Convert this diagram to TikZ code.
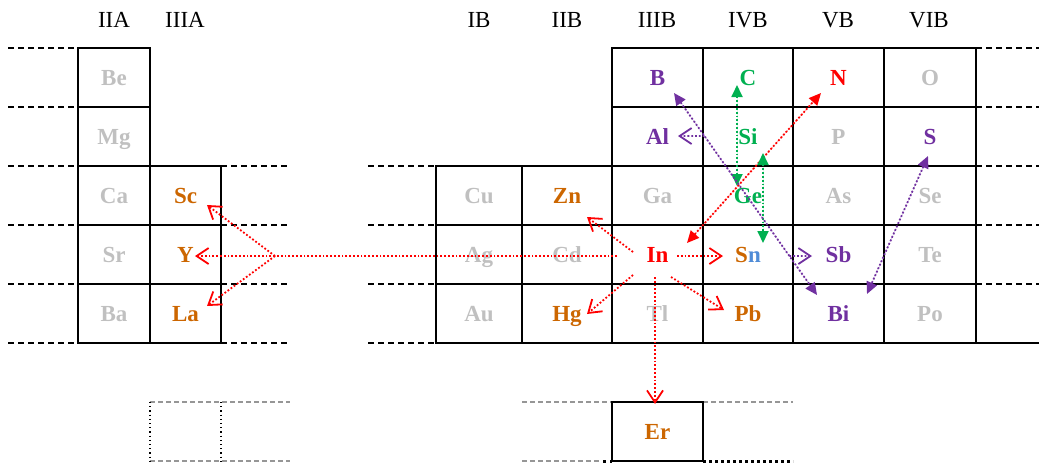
\documentclass[tikz,border=0pt]{standalone}
\usepackage{fontspec}
\setmainfont{Liberation Serif}
\usetikzlibrary{arrows.meta}

\definecolor{elgray}{RGB}{192,192,192}
\definecolor{elorange}{RGB}{204,102,0}
\definecolor{elpurple}{RGB}{112,48,160}
\definecolor{elgreen}{RGB}{0,176,80}
\definecolor{elred}{RGB}{255,0,0}
\definecolor{elblue}{RGB}{80,140,215}
\definecolor{guide}{RGB}{150,150,150}

\tikzset{
  grid/.style={line width=2.8pt, line cap=rect},
  ext/.style={line width=2.5pt, dash pattern=on 6pt off 4pt},
  faint/.style={draw=guide, line width=1.5pt, dash pattern=on 5pt off 3pt},
  thinvert/.style={line width=1.2pt, dash pattern=on 1.2pt off 3pt},
  elem/.style={font=\bfseries\fontsize{23}{27}\selectfont, inner sep=0pt,
               text height=15pt, text depth=0pt, anchor=center},
  head/.style={font=\fontsize{23}{27}\selectfont, inner sep=0pt,
               text height=15pt, text depth=0pt, anchor=center},
  dots/.style={line width=1.8pt, dash pattern=on 1.8pt off 2pt},
  openhead/.style={dots, -{Straight Barb[length=12pt,width=16pt,line width=1.8pt]}},
  fillboth/.style={dots, {Triangle[length=12pt,width=11pt]}-{Triangle[length=12pt,width=11pt]}},
  redopen/.style={openhead, draw=elred},
  redline/.style={dots, draw=elred},
}

\begin{document}
\begin{tikzpicture}[x=1pt,y=-1pt]
\useasboundingbox (0,0) rectangle (1039,464);

% ---- left block (groups IIA, IIIA)
\draw[grid] (78,48) rectangle (150,343);
\draw[grid] (150,166) rectangle (221,343);
\draw[grid] (78,107) -- (150,107);
\foreach \y in {166,225,284} \draw[grid] (78,\y) -- (221,\y);
\foreach \y in {48,107,166,225,284,343} \draw[ext] (8,\y) -- (78,\y);
\foreach \y in {166,225,284,343} \draw[ext] (221,\y) -- (290,\y);

% ---- right block (groups IB to VIB)
\foreach \y in {48,107} \draw[grid] (612,\y) -- (976,\y);
\foreach \y in {166,225,284} \draw[grid] (436,\y) -- (976,\y);
\draw[grid] (436,343) -- (1039,343);
\foreach \x in {436,522} \draw[grid] (\x,166) -- (\x,343);
\foreach \x in {612,703,793,884,976} \draw[grid] (\x,48) -- (\x,343);
\foreach \y in {166,225,284,343} \draw[ext] (368,\y) -- (436,\y);
\foreach \y in {48,107,166,225,284} \draw[ext] (976,\y) -- (1039,\y);

% ---- lanthanide row
\draw[faint] (150,402) -- (290,402);
\draw[faint] (150,461) -- (290,461);
\draw[thinvert] (150,402) -- (150,461);
\draw[thinvert] (221,402) -- (221,461);
\draw[faint] (522,402) -- (612,402);
\draw[faint] (703,402) -- (793,402);
\draw[faint] (522,461) -- (600,461);
\draw[line width=3pt, dash pattern=on 3pt off 4pt] (603,461) -- (612,461);
\draw[line width=3pt, dash pattern=on 3pt off 3pt] (703,461) -- (793,461);
\draw[grid] (612,402) rectangle (703,461);

% ---- group headers
\node[head] (hIIA)  at (114,19.5) {IIA};
\node[head] (hIIIA) at (185,19.5) {IIIA};
\node[head] (hIB)   at (479,19.5) {IB};
\node[head] (hIIB)  at (567,19.5) {IIB};
\node[head] (hIIIB) at (657,19.5) {IIIB};
\node[head] (hIVB)  at (748,19.5) {IVB};
\node[head] (hVB)   at (838,19.5) {VB};
\node[head] (hVIB)  at (929,19.5) {VIB};

% ---- elements
\node[elem, elgray]   (Be) at (114,77.5)  {Be};
\node[elem, elgray]   (Mg) at (114,136.5) {Mg};
\node[elem, elgray]   (Ca) at (114,195.5) {Ca};
\node[elem, elgray]   (Sr) at (114,254.5) {Sr};
\node[elem, elgray]   (Ba) at (114,313.5) {Ba};
\node[elem, elorange] (Sc) at (185.5,195.5) {Sc};
\node[elem, elorange] (Y)  at (185.5,254.5) {Y};
\node[elem, elorange] (La) at (185.5,313.5) {La};

\node[elem, elgray]   (Cu) at (479,195.5) {Cu};
\node[elem, elgray]   (Ag) at (479,254.5) {Ag};
\node[elem, elgray]   (Au) at (479,313.5) {Au};
\node[elem, elorange] (Zn) at (567,195.5) {Zn};
\node[elem, elgray]   (Cd) at (567,254.5) {Cd};
\node[elem, elorange] (Hg) at (567,313.5) {Hg};

\node[elem, elpurple] (B)  at (657.5,77.5)  {B};
\node[elem, elpurple] (Al) at (657.5,136.5) {Al};
\node[elem, elgray]   (Ga) at (657.5,195.5) {Ga};
\node[elem, elred]    (In) at (657.5,254.5) {In};
\node[elem, elgray]   (Tl) at (657.5,313.5) {Tl};

\node[elem, elgreen]  (C)  at (748,77.5)  {C};
\node[elem, elgreen]  (Si) at (748,136.5) {Si};
\node[elem, elgreen]  (Ge) at (748,195.5) {Ge};
\node[elem]           (Sn) at (748,254.5) {\textcolor{elorange}{S}\textcolor{elblue}{n}};
\node[elem, elorange] (Pb) at (748,313.5) {Pb};

\node[elem, elred]    (N)  at (838.5,77.5)  {N};
\node[elem, elgray]   (P)  at (838.5,136.5) {P};
\node[elem, elgray]   (As) at (838.5,195.5) {As};
\node[elem, elpurple] (Sb) at (838.5,254.5) {Sb};
\node[elem, elpurple] (Bi) at (838.5,313.5) {Bi};

\node[elem, elgray]   (O)  at (930,77.5)  {O};
\node[elem, elpurple] (S)  at (930,136.5) {S};
\node[elem, elgray]   (Se) at (930,195.5) {Se};
\node[elem, elgray]   (Te) at (930,254.5) {Te};
\node[elem, elgray]   (Po) at (930,313.5) {Po};

\node[elem, elorange] (Er) at (657.5,431.5) {Er};

% ---- substitutions from In (red)
\draw[redopen] ([shift={(-24.5,-2.5)}]In.center) -- ([shift={(20,21.5)}]Zn.center);
\draw[redopen] ([shift={(-24.5,20.5)}]In.center) -- ([shift={(20,0.5)}]Hg.center);
\draw[redopen] ([shift={(19.5,1.5)}]In.center) -- ([shift={(-25,1.5)}]Sn.center);
\draw[redopen] ([shift={(13.5,22.5)}]In.center) -- ([shift={(-24,-3.5)}]Pb.center);
\draw[redopen] ([shift={(-2.5,22.5)}]In.center) -- ([shift={(-2.5,-27.5)}]Er.center);
\coordinate (fork) at (275,256);
\draw[redline] ([shift={(-40.5,1.5)}]In.center) -- (fork);
\draw[redopen] (fork) -- ([shift={(9.5,1.5)}]Y.center);
\draw[redopen] (fork) -- ([shift={(21.5,9.5)}]Sc.center);
\draw[redopen] (fork) -- ([shift={(21.5,-7.5)}]La.center);
\draw[fillboth, draw=elred, fill=elred]
  ([shift={(29.5,-11.5)}]In.center) -- ([shift={(-17.5,15.5)}]N.center);

% ---- group IV (green)
\draw[fillboth, draw=elgreen, fill=elgreen]
  ([shift={(-11,7.5)}]C.center) -- ([shift={(-11,-9.5)}]Ge.center);
\draw[fillboth, draw=elgreen, fill=elgreen]
  ([shift={(15,16.5)}]Si.center) -- ([shift={(15,-11.5)}]Sn.center);

% ---- B to Bi chain with branches to Al and Sb (purple)
\draw[fillboth, draw=elpurple, fill=elpurple]
  ([shift={(16.5,15.5)}]B.center) -- coordinate[pos=0.213] (toAl)
  coordinate[pos=0.807] (toSb) ([shift={(-21.5,-18.5)}]Bi.center);
\draw[openhead, draw=elpurple] (toAl) -- ([shift={(20.5,-0.5)}]Al.center);
\draw[openhead, draw=elpurple] (toSb) -- ([shift={(-26.5,1.5)}]Sb.center);
\draw[fillboth, draw=elpurple, fill=elpurple]
  ([shift={(-2,19.5)}]S.center) -- ([shift={(28.5,-19.5)}]Bi.center);

\end{tikzpicture}
\end{document}
